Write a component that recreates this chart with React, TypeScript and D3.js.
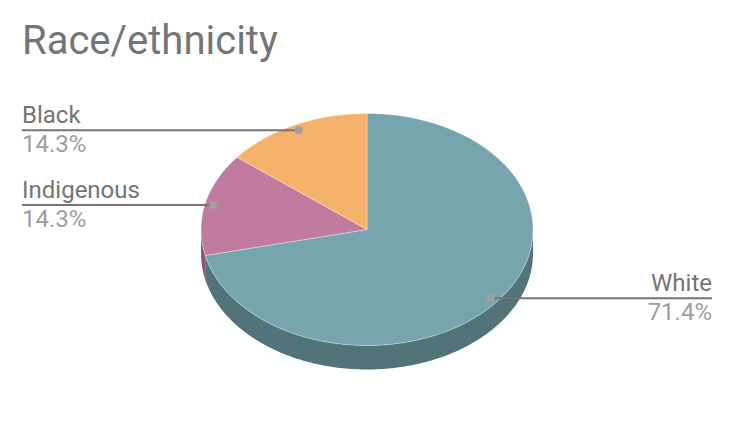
import * as React from 'react';
import * as d3 from 'd3';
import {useEffect, useRef} from 'react';

const categories = ['White', 'Indigenous', 'Black'];
const shares = [71.4, 14.3, 14.3];
const colors = ['#76a5af', '#c27ba0', '#f6b26b'];
const title = 'Race/ethnicity';

const W = 734;
const H = 430;
const cx = 367;
const cy = 229.5;
const rx = 166;
const ry = 116;
const depth = 24;

function ellipsePoints(a0: number, a1: number, dy: number): [number, number][] {
    const n = Math.max(2, Math.ceil((a1 - a0) / 0.01));
    const pts: [number, number][] = [];
    for (let i = 0; i <= n; i++) {
        const a = a0 + (a1 - a0) * i / n;
        pts.push([cx + rx * Math.sin(a), cy - ry * Math.cos(a) + dy]);
    }
    return pts;
}

function drawChart(el: SVGSVGElement) {
    const svg = d3.select(el);
    svg.selectAll('*').remove();
    const line = d3.line();
    const data = categories.map((c, i) => ({name: c, value: shares[i], color: colors[i]}));
    const arcs = d3.pie<any>().sort(null).value((d: any) => d.value)(data);

    // side wall, only the front half is visible
    const side = svg.append('g');
    arcs.forEach((a: any) => {
        const s0 = Math.max(a.startAngle, Math.PI / 2);
        const s1 = Math.min(a.endAngle, Math.PI * 1.5);
        if (s0 >= s1) return;
        const top = ellipsePoints(s0, s1, 0);
        const bottom = ellipsePoints(s0, s1, depth).reverse();
        side.append('path')
            .attr('d', line([...top, ...bottom]) + 'Z')
            .attr('fill', d3.color(a.data.color)!.darker(1).toString());
    });

    // top faces
    const topFace = svg.append('g');
    arcs.forEach((a: any) => {
        const pts: [number, number][] = [[cx, cy], ...ellipsePoints(a.startAngle, a.endAngle, 0)];
        topFace.append('path')
            .attr('d', line(pts) + 'Z')
            .attr('fill', a.data.color)
            .attr('stroke', '#ffffff')
            .attr('stroke-opacity', 0.5)
            .attr('stroke-width', 0.7);
    });

    // labels
    const fmt = d3.format('.1f');
    const labels = svg.append('g').attr('font-family', 'Roboto, sans-serif');
    arcs.forEach((a: any) => {
        const mid = (a.startAngle + a.endAngle) / 2;
        const px = cx + rx * 0.95 * Math.sin(mid);
        const py = cy - ry * 0.95 * Math.cos(mid);
        const right = Math.sin(mid) > 0;
        const tx = right ? 712 : 22;
        labels.append('line')
            .attr('x1', tx).attr('x2', px)
            .attr('y1', py).attr('y2', py)
            .attr('stroke', '#757575')
            .attr('stroke-width', 2);
        labels.append('circle')
            .attr('cx', px).attr('cy', py).attr('r', 4)
            .attr('fill', '#a0a0a0');
        labels.append('text')
            .attr('x', tx).attr('y', py - 7.5)
            .attr('text-anchor', right ? 'end' : 'start')
            .attr('font-size', 24)
            .attr('fill', '#757575')
            .text(a.data.name);
        labels.append('text')
            .attr('x', tx).attr('y', py + 22)
            .attr('text-anchor', right ? 'end' : 'start')
            .attr('font-size', 24)
            .attr('fill', '#9e9e9e')
            .text(fmt(a.data.value) + '%');
    });

    svg.append('text')
        .attr('x', 22).attr('y', 54)
        .attr('font-family', 'Roboto, sans-serif')
        .attr('font-size', 40)
        .attr('fill', '#757575')
        .text(title);
}

export default function App() {
    const ref = useRef<SVGSVGElement>(null);
    useEffect(() => {
        if (ref.current) drawChart(ref.current);
    }, []);
    return (
        <svg ref={ref} width={W} height={H} viewBox={`0 0 ${W} ${H}`}
             style={{position: 'absolute', left: 0, top: 0, background: '#ffffff'}}/>
    );
}
